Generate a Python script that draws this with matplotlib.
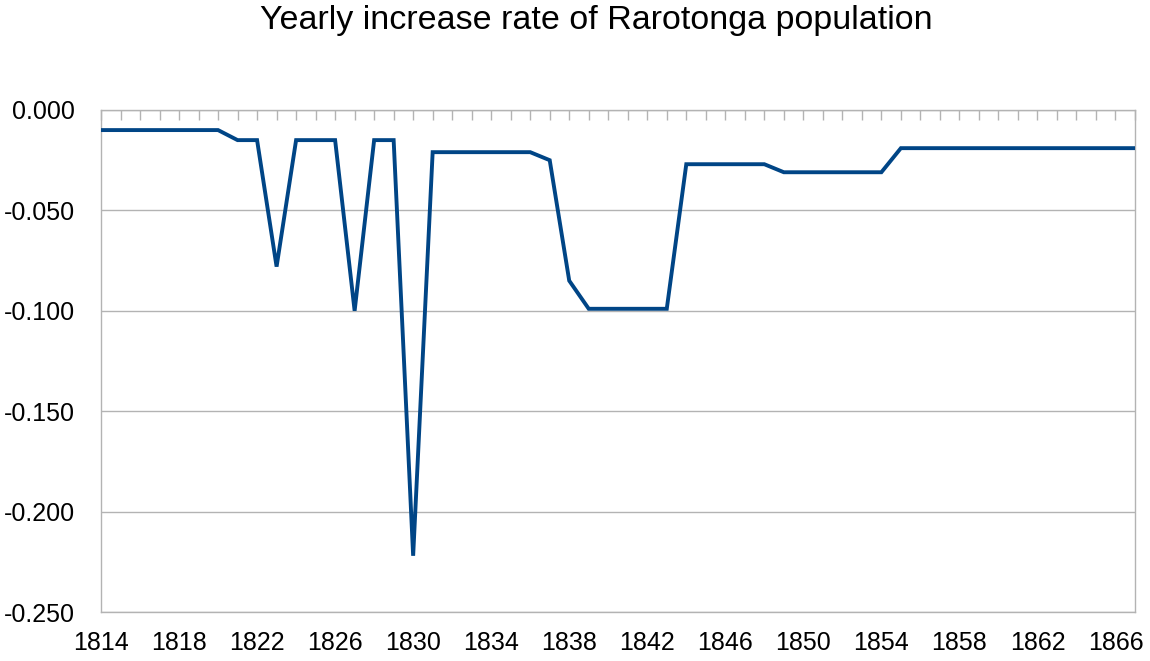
import matplotlib
matplotlib.use("Agg")
import matplotlib.pyplot as plt
from matplotlib.ticker import MultipleLocator, FixedLocator, FuncFormatter

plt.rcParams['font.family'] = ['Liberation Sans', 'DejaVu Sans']

years = list(range(1814, 1868))
rates = [
    -0.010, -0.010, -0.010, -0.010, -0.010, -0.010, -0.010,  # 1814-1820
    -0.015, -0.015,                                          # 1821-1822
    -0.078,                                                  # 1823
    -0.015, -0.015, -0.015,                                  # 1824-1826
    -0.100,                                                  # 1827
    -0.015, -0.015,                                          # 1828-1829
    -0.222,                                                  # 1830
    -0.021, -0.021, -0.021, -0.021, -0.021, -0.021,          # 1831-1836
    -0.025,                                                  # 1837
    -0.085,                                                  # 1838
    -0.099, -0.099, -0.099, -0.099, -0.099,                  # 1839-1843
    -0.027, -0.027, -0.027, -0.027, -0.027,                  # 1844-1848
    -0.031, -0.031, -0.031, -0.031, -0.031, -0.031,          # 1849-1854
    -0.019, -0.019, -0.019, -0.019, -0.019, -0.019, -0.019,  # 1855-1861
    -0.019, -0.019, -0.019, -0.019, -0.019, -0.019,          # 1862-1867
]
label_years = list(range(1814, 1867, 4))
title = "Yearly increase rate of Rarotonga population"

fig = plt.figure(figsize=(11.5, 6.61), dpi=100)
ax = fig.add_axes([101/1150, 1 - 612/661, (1135-101)/1150, (612-110)/661])

ax.plot(years, rates, color='#004586', linewidth=2.8, solid_joinstyle='miter', zorder=3)

ax.set_xlim(years[0], years[-1])
ax.set_ylim(-0.25, 0.0)
ax.yaxis.set_major_locator(MultipleLocator(0.05))
ax.yaxis.set_major_formatter(FuncFormatter(lambda v, p: f"{v:.3f}" if abs(v) > 1e-9 else "0.000"))
ax.xaxis.set_major_locator(FixedLocator(label_years))
ax.xaxis.set_minor_locator(FixedLocator(years))
ax.xaxis.set_major_formatter(FuncFormatter(lambda v, p: f"{int(round(v))}"))

ax.grid(axis='y', color='#b3b3b3', linewidth=1.0, zorder=0)
for s in ax.spines.values():
    s.set_color('#b3b3b3')
    s.set_linewidth(1.0)

ax.tick_params(axis='x', which='both', bottom=False, top=True, labelbottom=True, labeltop=False,
               direction='in', length=7, color='#b3b3b3', width=1.0)
ax.tick_params(axis='x', which='major', labelsize=18, pad=14)
ax.tick_params(axis='y', which='both', left=False, length=0, labelsize=18, pad=19)

fig.text(596/1150, 1 - 29/661, title, ha='center', va='baseline', fontsize=24.5)

fig.savefig('out.png', dpi=100)
